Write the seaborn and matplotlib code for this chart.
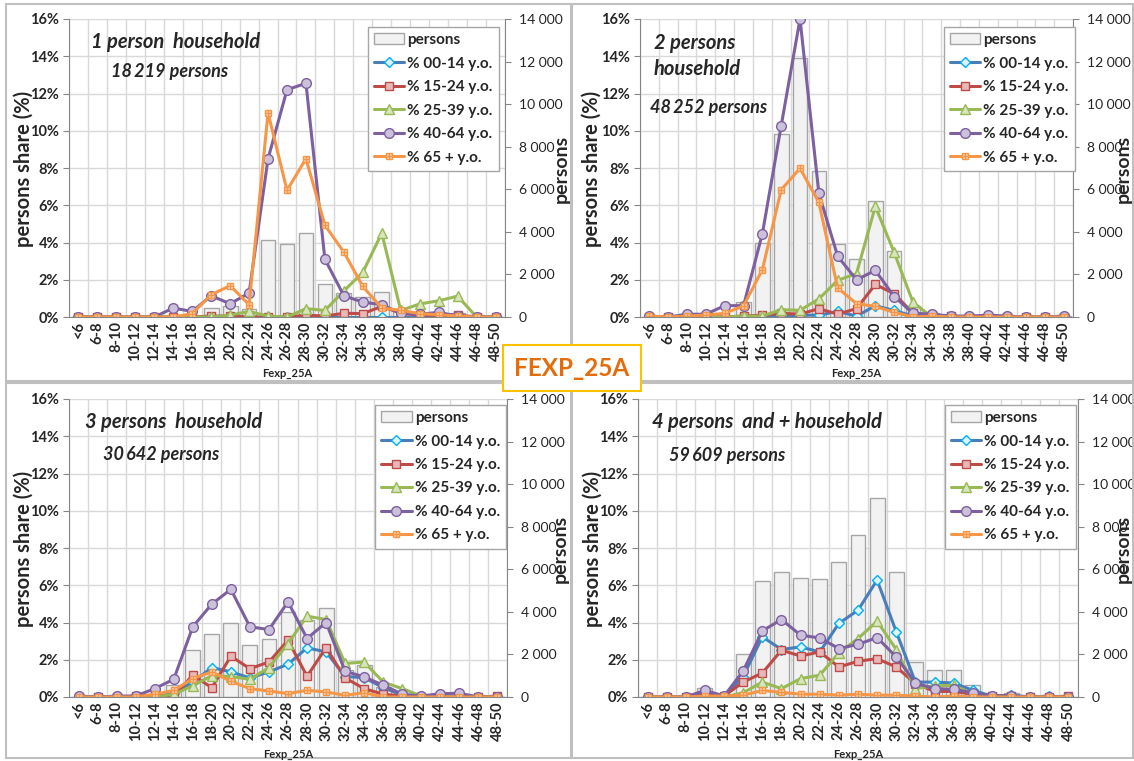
import numpy as np
import matplotlib
matplotlib.use("Agg")
import matplotlib.pyplot as plt
from matplotlib.patches import Rectangle, Patch
from matplotlib.ticker import FuncFormatter
from matplotlib.legend_handler import HandlerTuple
import seaborn as sns

sns.set_style("white")
plt.rcParams["font.family"] = ["Lato", "DejaVu Sans"]

W, H = 1134, 761

# Fexp_25A classes (x axis)
classes = ["<6", "6-8", "8-10", "10-12", "12-14", "14-16", "16-18", "18-20",
           "20-22", "22-24", "24-26", "26-28", "28-30", "30-32", "32-34",
           "34-36", "36-38", "38-40", "40-42", "42-44", "44-46", "46-48", "48-50"]
age_groups = ["% 00-14 y.o.", "% 15-24 y.o.", "% 25-39 y.o.", "% 40-64 y.o.", "% 65 + y.o."]

# 1 person household
p1_persons = [0, 0, 0, 0, 0, 0, 0, 420, 500, 375, 3600, 3440, 3940, 1550, 1125, 925, 1160, 260, 130, 175, 190, 90, 0]
p1_00_14 = [0] * 23
p1_15_24 = [0, 0, 0, 0, 0, 0, 0, 0.05, 0.05, 0, 0, 0, 0.1, 0.05, 0.2, 0.18, 0.57, 0.2, 0.1, 0.1, 0.1, 0, 0]
p1_25_39 = [0, 0, 0, 0, 0, 0, 0, 0, 0.1, 0.3, 0.05, 0, 0.45, 0.35, 1.4, 2.4, 4.5, 0.35, 0.7, 0.87, 1.12, 0, 0]
p1_40_64 = [0, 0, 0, 0, 0, 0.48, 0.3, 1.14, 0.71, 1.29, 8.5, 12.2, 12.55, 3.1, 1.14, 0.8, 0.66, 0.2, 0.15, 0.25, 0.05, 0, 0]
p1_65 = [0, 0, 0, 0, 0, 0, 0.18, 1.2, 1.68, 0.66, 10.96, 6.8, 8.5, 4.93, 3.48, 1.64, 0.48, 0.36, 0.18, 0.12, 0.05, 0, 0]

# 2 persons household
p2_persons = [0, 0, 0, 0, 60, 690, 3500, 8610, 12160, 6840, 3445, 2725, 5450, 3085, 500, 170, 60, 40, 50, 40, 0, 0, 30]
p2_00_14 = [0, 0, 0, 0, 0, 0, 0, 0.05, 0.1, 0.1, 0.3, 0.05, 0.6, 0.35, 0.05, 0, 0, 0, 0, 0, 0, 0, 0]
p2_15_24 = [0, 0, 0, 0, 0, 0.05, 0.1, 0.2, 0.15, 0.45, 0.15, 0.45, 1.75, 1.25, 0.2, 0.1, 0.05, 0, 0, 0, 0, 0, 0]
p2_25_39 = [0, 0, 0, 0, 0, 0.05, 0.05, 0.39, 0.36, 0.97, 1.97, 2.33, 5.94, 3.47, 0.79, 0, 0, 0, 0, 0, 0, 0, 0]
p2_40_64 = [0.05, 0, 0.15, 0.15, 0.61, 0.61, 4.47, 10.27, 16.0, 6.65, 3.26, 2.0, 2.5, 1.1, 0.2, 0.15, 0.05, 0.05, 0.1, 0.05, 0, 0, 0.05]
p2_65 = [0.05, 0, 0.05, 0.1, 0.2, 0.6, 2.54, 6.83, 7.98, 6.15, 1.56, 0.72, 0.57, 0.25, 0, 0.05, 0, 0, 0, 0, 0, 0, 0]

# 3 persons household
p3_persons = [0, 0, 0, 0, 100, 550, 2200, 2980, 3480, 2430, 2745, 4000, 3610, 4160, 1255, 1490, 450, 130, 50, 60, 70, 30, 20]
p3_00_14 = [0, 0, 0, 0, 0, 0.2, 0.8, 1.58, 1.35, 1.02, 1.35, 1.76, 2.64, 2.42, 1.1, 1.04, 0.5, 0.1, 0, 0, 0, 0, 0]
p3_15_24 = [0, 0, 0, 0.05, 0.1, 0.05, 1.17, 0.5, 2.19, 1.52, 1.88, 3.05, 1.11, 2.65, 1.02, 0.45, 0.15, 0.05, 0, 0, 0, 0, 0.05]
p3_25_39 = [0, 0, 0, 0, 0, 0.15, 0.6, 1.15, 1.1, 0.95, 1.58, 2.87, 4.34, 4.16, 1.8, 1.88, 0.8, 0.45, 0.05, 0, 0, 0, 0]
p3_40_64 = [0.05, 0, 0.05, 0.05, 0.45, 0.95, 3.77, 4.99, 5.78, 3.77, 3.62, 5.11, 3.14, 4.0, 1.38, 1.08, 0.63, 0.15, 0.05, 0.18, 0.2, 0, 0]
p3_65 = [0, 0, 0, 0, 0.15, 0.35, 0.99, 1.35, 0.84, 0.45, 0.32, 0.18, 0.36, 0.27, 0.09, 0.23, 0, 0, 0, 0, 0, 0, 0]

# 4 persons and + household
p4_persons = [0, 0, 0, 440, 80, 2040, 5460, 5890, 5600, 5560, 6340, 7610, 9370, 5850, 1650, 1255, 1255, 580, 50, 200, 40, 60, 20]
p4_00_14 = [0, 0, 0, 0.2, 0.05, 1.1, 3.23, 2.55, 2.69, 2.42, 3.95, 4.66, 6.28, 3.5, 0.8, 0.8, 0.75, 0.36, 0.05, 0.1, 0, 0.05, 0]
p4_15_24 = [0, 0, 0, 0.1, 0.05, 0.8, 1.29, 2.51, 2.2, 2.42, 1.61, 1.92, 2.06, 1.61, 0.72, 0.3, 0.3, 0.15, 0.05, 0.05, 0, 0, 0.05]
p4_25_39 = [0, 0, 0, 0, 0, 0.23, 0.8, 0.45, 0.99, 1.17, 2.37, 3.14, 4.07, 2.55, 0.45, 0.6, 0.63, 0.15, 0, 0, 0, 0, 0]
p4_40_64 = [0, 0, 0, 0.36, 0.05, 1.4, 3.55, 4.16, 3.32, 3.17, 2.6, 2.83, 3.19, 2.15, 0.75, 0.45, 0.41, 0.23, 0.05, 0.05, 0, 0, 0]
p4_65 = [0, 0, 0, 0.05, 0.05, 0.1, 0.35, 0.25, 0.15, 0.15, 0.1, 0.15, 0.1, 0.1, 0.05, 0, 0.05, 0, 0, 0, 0, 0, 0]

pct_ticks = [0, 2, 4, 6, 8, 10, 12, 14, 16]
person_ticks = [0, 2000, 4000, 6000, 8000, 10000, 12000, 14000]

# line colour, marker, marker face, marker edge, marker size
styles = [
    ("#4A7EBB", "D", "#DDF4FC", "#00B0F0", 5.5),
    ("#BE4B48", "s", "#E6B9B8", "#BE4B48", 6),
    ("#98B954", "^", "#D7E4BD", "#98B954", 7.5),
    ("#7D60A0", "o", "#CCC1DA", "#7D60A0", 7),
    ("#F79646", "s", "#FCD5B5", "#F79646", 5),
]

GRID = "#D9D9D9"
AXC = "#868686"


def px(x, y):
    return x / W, 1 - y / H


def draw_panel(rect, persons, series, legend_anchor):
    ax = fig.add_axes(rect)
    axn = ax.twinx()
    ax.set_zorder(axn.get_zorder() + 1)
    ax.patch.set_visible(False)
    x = np.arange(len(classes))

    # gridlines behind the bars
    for b in np.arange(len(classes) + 1) - 0.5:
        axn.axvline(b, color=GRID, lw=1, zorder=0)
    for t in pct_ticks:
        axn.axhline(t * person_ticks[-1] / pct_ticks[-1], color=GRID, lw=1, zorder=0)

    sns.barplot(x=classes, y=persons, ax=axn, color="#F2F2F2", edgecolor="#A6A6A6",
                linewidth=1, width=0.78, saturation=1, zorder=2)

    handles = [Patch(facecolor="#F2F2F2", edgecolor="#A6A6A6", label="persons")]
    for vals, (c, m, fc, ec, ms) in zip(series, styles):
        sns.lineplot(x=x, y=vals, ax=ax, color=c, lw=2.2, marker=m, markersize=ms,
                     markerfacecolor=fc, markeredgecolor=ec, markeredgewidth=1, clip_on=True)
        line = ax.get_lines()[-1]
        if m == "s" and c == "#F79646":
            sns.lineplot(x=x, y=vals, ax=ax, color=c, lw=0, marker="+", markersize=5,
                         markeredgecolor=c, markeredgewidth=1)
            handles.append((line, ax.get_lines()[-1]))
        else:
            handles.append(line)

    ax.set_xlim(-0.5, len(classes) - 0.5)
    ax.set_ylim(0, pct_ticks[-1])
    axn.set_ylim(0, person_ticks[-1])
    ax.set_yticks(pct_ticks)
    ax.yaxis.set_major_formatter(FuncFormatter(lambda v, p: f"{int(v)}%"))
    axn.set_yticks(person_ticks)
    axn.yaxis.set_major_formatter(FuncFormatter(lambda v, p: f"{int(v):,}".replace(",", " ")))
    ax.set_xticks(x)
    ax.set_xticklabels(classes, rotation=90, fontsize=10.5, fontweight="bold")
    ax.set_xlabel("")
    axn.set_xlabel("")
    axn.set_ylabel("")
    ax.set_ylabel("")

    for s in ["top", "right"]:
        ax.spines[s].set_visible(False)
    for s in ["top", "left", "bottom"]:
        axn.spines[s].set_visible(False)
    ax.spines["left"].set_color(AXC)
    ax.spines["bottom"].set_color(AXC)
    axn.spines["right"].set_color(AXC)
    ax.tick_params(axis="y", direction="out", length=4, color=AXC, labelsize=10.5, pad=3, left=True)
    for lab in ax.get_yticklabels():
        lab.set_fontweight("bold")
    ax.tick_params(axis="x", length=0, pad=3)
    axn.tick_params(axis="y", direction="out", length=4, color=AXC, labelsize=10, pad=6, right=True)

    leg = ax.legend(handles, ["persons"] + age_groups, loc="upper right",
                    bbox_to_anchor=legend_anchor, borderaxespad=0,
                    prop={"weight": "bold", "size": 11}, frameon=True, fancybox=False,
                    framealpha=1, edgecolor="#A6A6A6", handlelength=2.0,
                    handletextpad=0.2, borderpad=0.4, labelspacing=0.62,
                    handler_map={tuple: HandlerTuple(ndivide=1)})
    leg.get_frame().set_linewidth(1)
    return ax


fig = plt.figure(figsize=(W / 100, H / 100), dpi=100)

# panel frames
for (x0, y0, x1, y1) in [(6, 4, 571, 381), (572, 4, 1133, 381), (6, 383, 571, 758), (572, 383, 1133, 758)]:
    fig.add_artist(Rectangle(px(x0, y1), (x1 - x0) / W, (y1 - y0) / H, transform=fig.transFigure,
                             fill=False, edgecolor="#BFBFBF", lw=1.5))

panels = [
    ([69, 505, 19, 317], p1_persons, [p1_00_14, p1_15_24, p1_25_39, p1_40_64, p1_65], (0.986, 0.973)),
    ([640, 1073, 19, 317], p2_persons, [p2_00_14, p2_15_24, p2_25_39, p2_40_64, p2_65], (1.004, 0.973)),
    ([69, 507, 399, 697], p3_persons, [p3_00_14, p3_15_24, p3_25_39, p3_40_64, p3_65], (0.998, 0.98)),
    ([638, 1078, 399, 697], p4_persons, [p4_00_14, p4_15_24, p4_25_39, p4_40_64, p4_65], (0.995, 0.98)),
]
for (l, r, t, b), persons, series, anchor in panels:
    rect = [l / W, 1 - b / H, (r - l) / W, (b - t) / H]
    draw_panel(rect, persons, series, anchor)
    # x axis title under the rotated class labels
    fig.text(*px((l + r) / 2, b + 57), "Fexp_25A", ha="center", va="center",
             fontsize=8, fontweight="bold")

# axis titles
for xl, xr, yc in [(24, 561, 169), (592, 1123, 169), (24, 560, 549), (593, 1123, 549)]:
    fig.text(*px(xl, yc), "persons share (%)", rotation=90, ha="center", va="center",
             fontsize=14.5, fontweight="bold")
    fig.text(*px(xr, yc), "persons", rotation=90, ha="center", va="center",
             fontsize=14, fontweight="bold")

# panel titles
titles = [
    (91, 42, "1 person  household", 14.5), (111, 71, "18\u2009219 persons", 13),
    (654, 43, "2 persons", 14.5), (654, 69, "household", 14.5), (650, 108, "48\u2009252 persons", 13),
    (85, 422, "3 persons  household", 14.5), (103, 454, "30\u2009642 persons", 13),
    (652, 422, "4 persons  and + household", 14.5), (669, 455, "59\u2009609 persons", 13),
]
for x, y, s, fs in titles:
    fig.text(*px(x, y), s, ha="left", va="center", fontsize=fs, fontweight="bold", style="italic")

# central label
fig.add_artist(Rectangle(px(503, 391), 138 / W, 46 / H, transform=fig.transFigure,
                         facecolor="white", edgecolor="#FFC000", lw=1.5, zorder=10))
fig.text(*px(572, 368), "FEXP_25A", ha="center", va="center", fontsize=17.5,
         fontweight="bold", color="#E46C0A", zorder=11)

fig.savefig("out.png", dpi=100)
